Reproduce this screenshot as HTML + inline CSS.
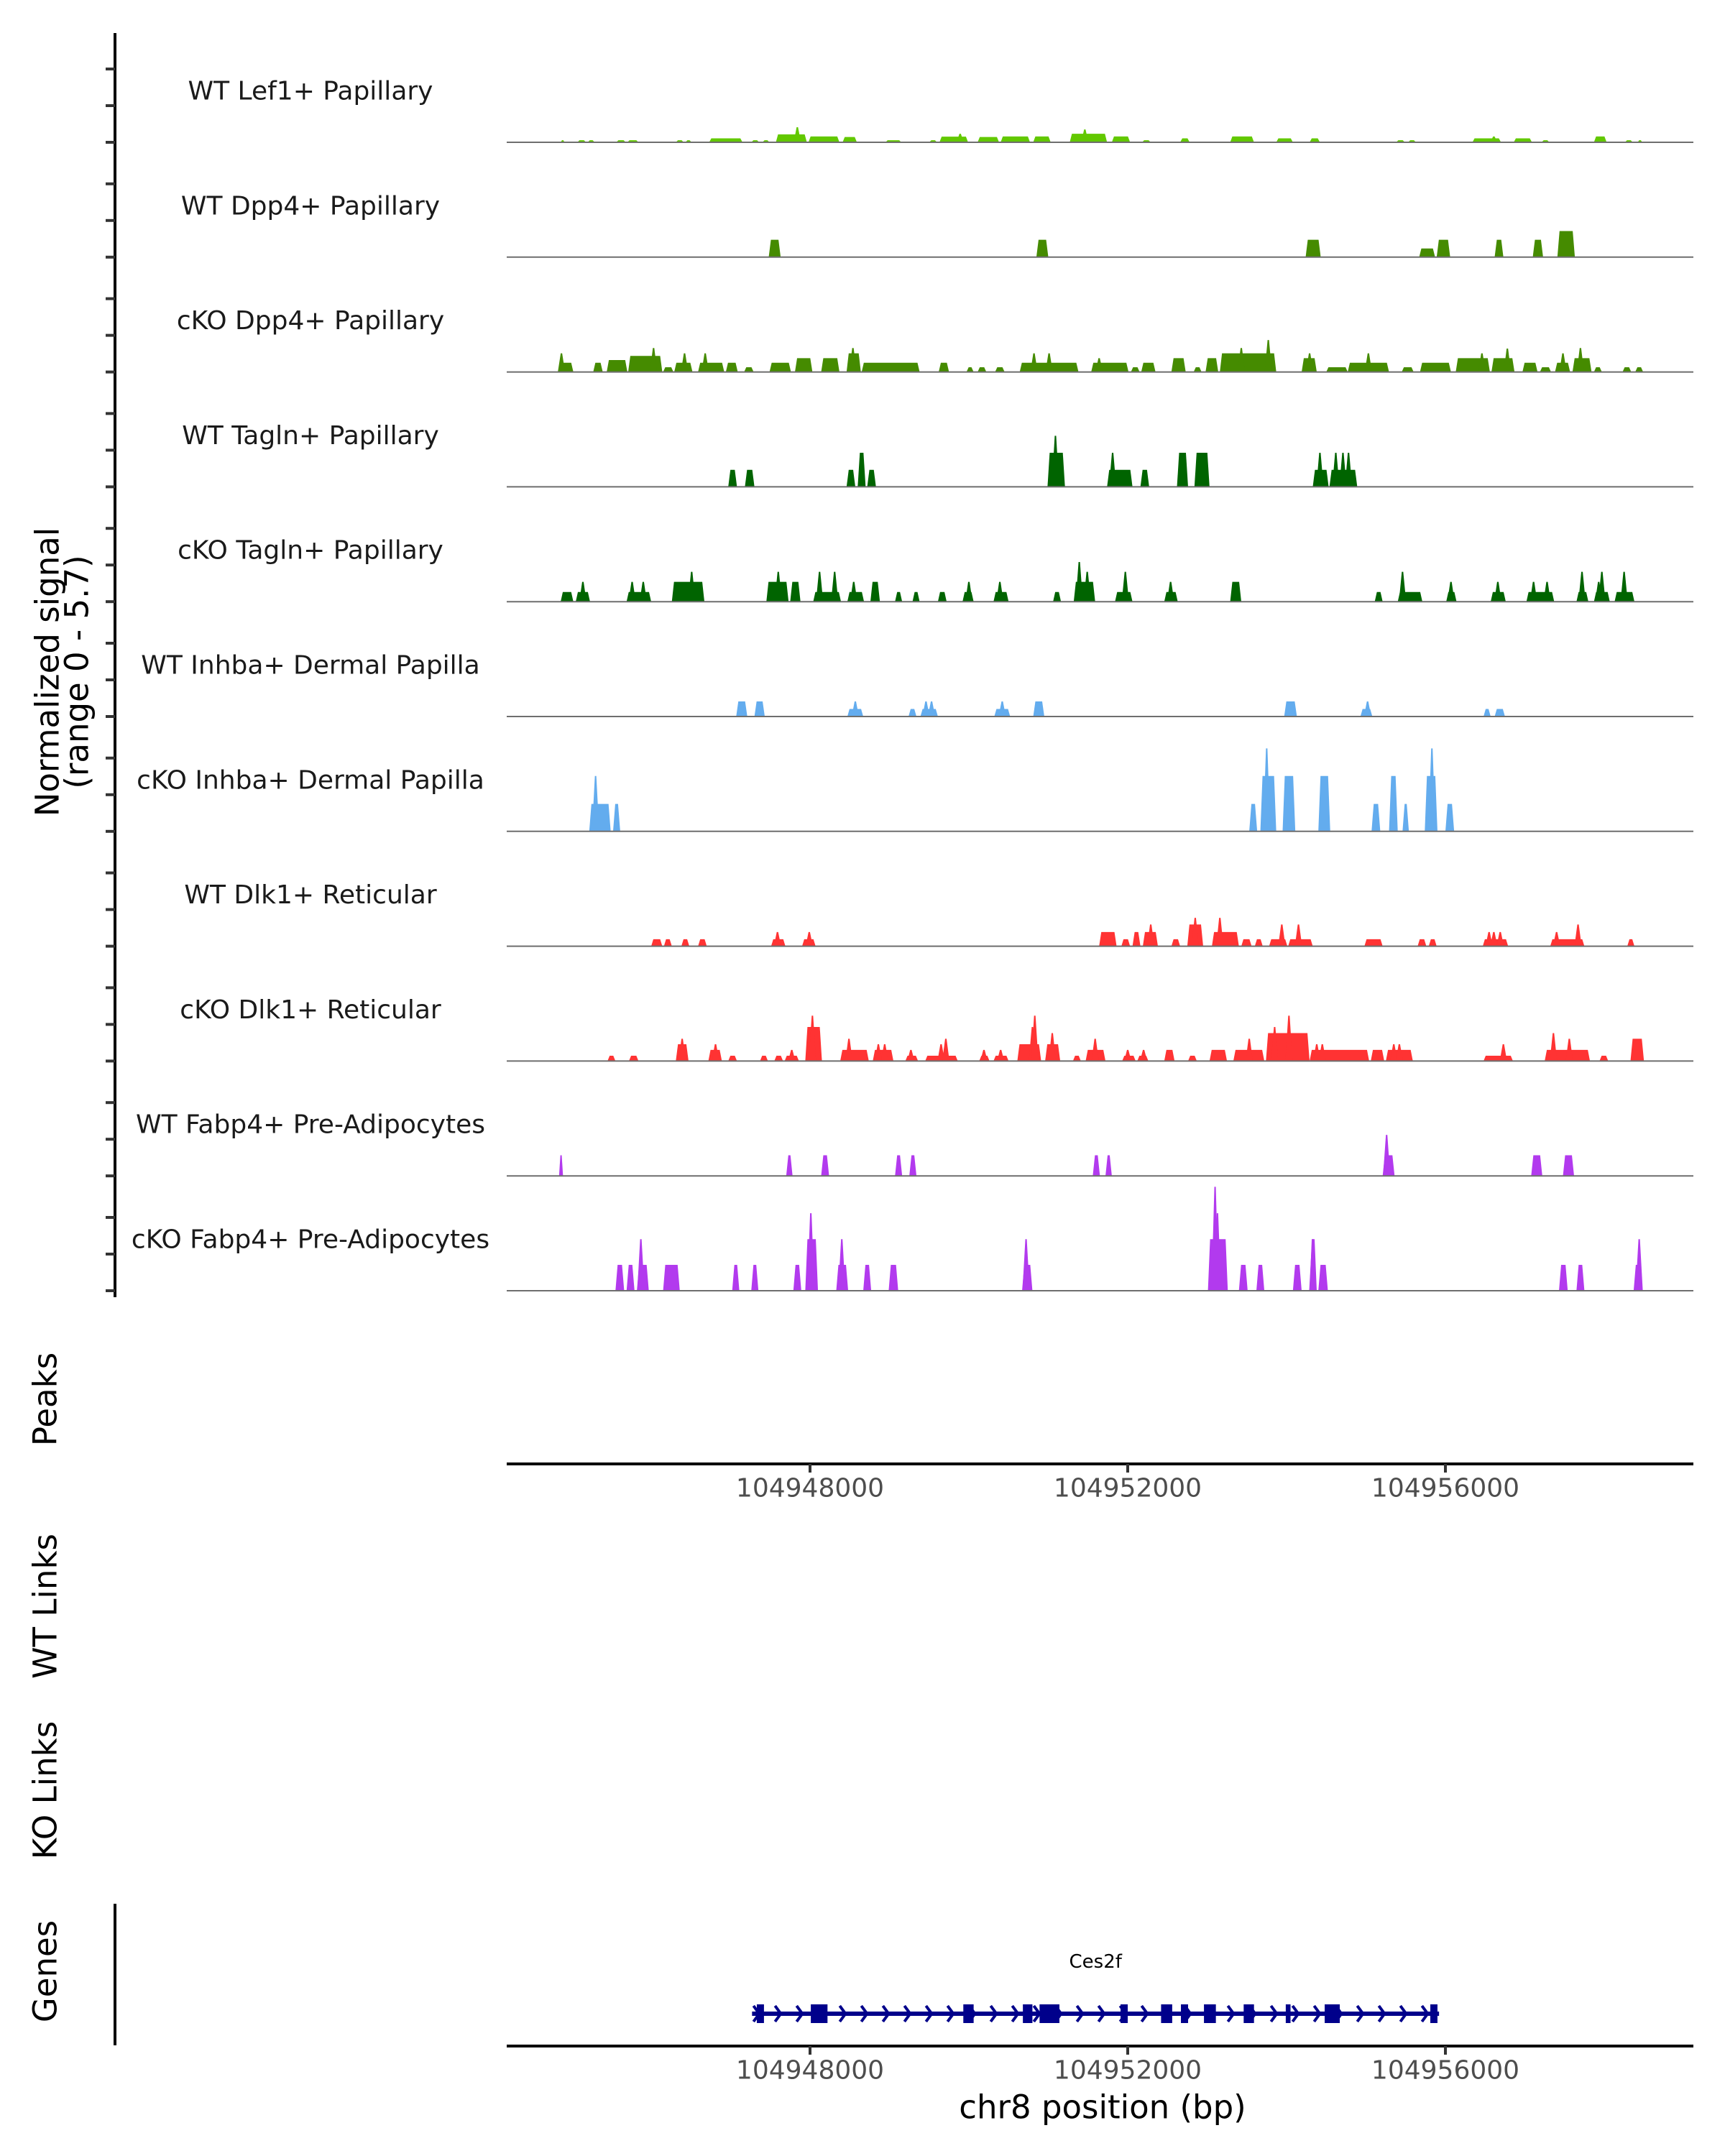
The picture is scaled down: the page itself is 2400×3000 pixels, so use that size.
<!DOCTYPE html>
<html><head><meta charset="utf-8"><style>
html,body{margin:0;padding:0;background:#fff;}
svg{display:block;font-family:"DejaVu Sans","Liberation Sans",sans-serif;}
</style></head><body>
<svg id="chart" xmlns="http://www.w3.org/2000/svg" width="2400" height="3000" viewBox="0 0 2400 3000"></svg>
<script>
// positions in kb offset from chr8:104944000
const tickValues = [4, 8, 12];
const tickLabels = ["104948000", "104952000", "104956000"];
const trackNames = ["WT Lef1+ Papillary","WT Dpp4+ Papillary","cKO Dpp4+ Papillary","WT Tagln+ Papillary","cKO Tagln+ Papillary","WT Inhba+ Dermal Papilla","cKO Inhba+ Dermal Papilla","WT Dlk1+ Reticular","cKO Dlk1+ Reticular","WT Fabp4+ Pre-Adipocytes","cKO Fabp4+ Pre-Adipocytes"];
const trackColors = ["#62c800","#458b00","#458b00","#006400","#006400","#63acee","#63acee","#ff3333","#ff3333","#b23aee","#b23aee"];

const wtLef1Ranges = [[0.86,0.91,.11],[1.07,1.18,.11],[1.20,1.29,.11],[1.56,1.68,.11],[1.70,1.84,.11],[2.31,2.41,.11],[2.43,2.51,.11],[2.73,3.15,.21],[3.26,3.36,.11],[3.40,3.49,.11],[3.57,3.96,.42],[3.98,4.37,.31],[4.41,4.59,.28],[4.95,5.15,.11],[5.50,5.60,.11],[5.63,5.99,.30],[6.11,6.38,.28],[6.40,6.77,.31],[6.81,7.03,.31],[7.27,7.74,.45],[7.80,8.03,.31],[8.18,8.29,.11],[8.66,8.78,.21],[9.29,9.59,.31],[9.87,10.08,.21],[10.29,10.42,.21],[11.38,11.49,.11],[11.53,11.63,.11],[12.34,12.70,.21],[12.86,13.09,.21],[13.21,13.31,.11],[13.87,14.03,.31],[14.26,14.36,.11],[14.42,14.48,.11]];
const wtLef1Spikes = [[3.84,0.8],[5.89,0.45],[7.46,0.68],[12.61,0.31]];

const wtDpp4Ranges = [[3.48,3.63,.92],[6.85,7.00,.92],[10.24,10.43,.92],[11.67,11.87,.46],[11.89,12.06,.92],[12.62,12.73,.92],[13.10,13.23,.92],[13.41,13.63,1.38]];
const wtDpp4Spikes = [];

const koDpp4Ranges = [[0.86,1.02,.49],[1.27,1.39,.49],[1.44,1.70,.63],[1.71,2.14,.85],[2.15,2.28,.25],[2.29,2.52,.49],[2.59,2.92,.49],[2.94,3.09,.49],[3.17,3.29,.25],[3.49,3.76,.49],[3.81,4.03,.73],[4.14,4.37,.73],[4.46,4.64,.99],[4.65,5.38,.49],[5.62,5.75,.49],[5.97,6.06,.25],[6.11,6.22,.25],[6.33,6.45,.25],[6.64,7.38,.49],[7.54,8.01,.49],[8.04,8.15,.25],[8.17,8.35,.49],[8.55,8.73,.73],[8.83,8.93,.25],[8.98,9.14,.73],[9.16,9.87,.99],[10.19,10.38,.73],[10.50,10.77,.25],[10.77,11.29,.49],[11.45,11.60,.25],[11.68,12.07,.49],[12.13,12.56,.73],[12.58,12.87,.73],[12.97,13.16,.49],[13.19,13.33,.25],[13.38,13.57,.49],[13.60,13.84,.73],[13.87,13.97,.25],[14.23,14.34,.25],[14.39,14.49,.25]];
const koDpp4Spikes = [[0.87,.99],[2.03,1.27],[2.42,.99],[2.68,.99],[4.54,1.27],[6.82,.99],[7.01,.99],[7.64,.73],[9.77,1.69],[9.43,1.27],[10.29,.99],[11.03,.99],[12.46,.99],[12.78,1.24],[13.48,.99],[13.70,1.27]];

const wtTaglnRanges = [[2.97,3.08,.9],[3.18,3.30,.9],[4.46,4.57,.9],[4.60,4.70,1.8],[4.72,4.83,.9],[6.99,7.21,1.8],[7.74,8.06,.9],[8.16,8.27,.9],[8.62,8.76,1.8],[8.84,9.03,1.8],[10.33,10.53,.9],[10.54,10.89,.9]];
const wtTaglnSpikes = [[7.09,2.7],[7.81,1.8],[10.42,1.8],[10.62,1.8],[10.71,1.8],[10.78,1.8]];

const koTaglnRanges = [[0.86,1.02,.51],[1.05,1.23,.51],[1.69,2.00,.51],[2.26,2.67,1.05],[3.45,3.73,1.05],[3.75,3.88,1.05],[4.04,4.39,.51],[4.47,4.68,.51],[4.76,4.88,1.05],[5.07,5.16,.51],[5.29,5.38,.51],[5.61,5.72,.51],[5.92,6.06,.51],[6.31,6.50,.51],[7.06,7.16,.51],[7.32,7.59,1.05],[7.84,8.06,.51],[8.46,8.63,.51],[9.29,9.43,1.05],[11.11,11.21,.51],[11.40,11.71,.51],[12.01,12.14,.51],[12.57,12.76,.51],[13.02,13.37,.51],[13.65,13.80,.51],[13.87,14.07,.51],[14.13,14.38,.51]];
const koTaglnSpikes = [[1.14,1.05],[1.76,1.05],[1.90,1.05],[2.51,1.58],[3.60,1.58],[4.12,1.58],[4.31,1.58],[4.55,1.05],[6.00,1.05],[6.39,1.05],[7.39,2.1],[7.49,1.58],[7.97,1.58],[8.54,1.05],[11.46,1.58],[12.07,1.05],[12.66,1.05],[13.11,1.05],[13.28,1.05],[13.72,1.58],[13.93,1.05],[13.97,1.58],[14.25,1.58]];

const wtInhbaRanges = [[3.07,3.21,.8],[3.30,3.43,.8],[4.47,4.67,.4],[5.24,5.34,.4],[5.39,5.61,.4],[6.32,6.52,.4],[6.81,6.95,.8],[9.97,10.13,.8],[10.93,11.08,.4],[12.48,12.57,.4],[12.62,12.75,.4]];
const wtInhbaSpikes = [[4.57,.8],[5.46,.8],[5.53,.8],[6.42,.8],[11.02,.8]];

const koInhbaRanges = [[1.22,1.49,1.45],[1.52,1.61,1.45],[9.53,9.63,1.45],[9.67,9.87,2.93],[9.95,10.11,2.93],[10.40,10.55,2.93],[11.07,11.18,1.45],[11.29,11.40,2.93],[11.46,11.54,1.45],[11.74,11.90,2.93],[12.00,12.11,1.45]];
const koInhbaSpikes = [[1.30,2.93],[9.75,4.39],[11.83,4.39]];

const wtDlk1Ranges = [[2.00,2.14,.37],[2.16,2.26,.37],[2.38,2.48,.37],[2.59,2.70,.37],[3.51,3.69,.37],[3.90,4.07,.37],[7.64,7.86,.75],[7.92,8.03,.37],[8.06,8.16,.75],[8.19,8.38,.75],[8.55,8.66,.37],[8.75,8.95,1.15],[9.06,9.40,.75],[9.43,9.56,.37],[9.60,9.70,.37],[9.78,10.01,.37],[10.02,10.33,.37],[10.98,11.21,.37],[11.65,11.76,.37],[11.79,11.89,.37],[12.47,12.79,.37],[13.32,13.75,.37],[14.29,14.38,.37]];
const wtDlk1Spikes = [[3.59,.75],[3.99,.75],[8.29,1.15],[8.85,1.5],[9.16,1.5],[9.94,1.15],[10.15,1.15],[12.55,.75],[12.61,.75],[12.69,.75],[13.40,.75],[13.67,1.15]];

const koDlk1Ranges = [[1.45,1.55,.28],[1.72,1.84,.28],[2.31,2.47,.89],[2.72,2.89,.59],[2.97,3.08,.28],[3.37,3.47,.28],[3.55,3.66,.28],[3.68,3.86,.28],[3.94,4.15,1.8],[4.38,4.74,.59],[4.79,5.05,.59],[5.20,5.36,.28],[5.45,5.86,.28],[6.13,6.26,.28],[6.31,6.50,.28],[6.61,6.91,.89],[6.96,7.15,.89],[7.31,7.41,.28],[7.47,7.72,.59],[7.93,8.10,.28],[8.12,8.26,.28],[8.46,8.59,.59],[8.76,8.87,.28],[9.03,9.25,.59],[9.33,9.72,.59],[9.74,10.29,1.48],[10.29,11.04,.59],[11.06,11.23,.59],[11.25,11.59,.59],[12.48,12.85,.28],[13.25,13.82,.59],[13.94,14.05,.28],[14.33,14.50,1.18]];
const koDlk1Spikes = [[2.39,1.18],[2.81,.89],[3.77,.59],[4.03,2.4],[4.49,1.18],[4.86,.89],[4.94,.89],[5.27,.59],[5.65,.89],[5.71,1.18],[6.19,.59],[6.40,.59],[6.80,1.8],[6.83,2.4],[7.05,1.48],[7.59,1.18],[8.00,.59],[8.20,.59],[9.53,1.18],[9.85,1.8],[10.03,2.4],[10.38,.89],[10.45,.89],[11.35,.89],[11.42,.89],[12.73,.89],[13.36,1.48],[13.56,1.18]];

const wtFabp4Ranges = [[0.84,0.89,1.09],[3.70,3.78,1.09],[4.14,4.24,1.09],[5.07,5.16,1.09],[5.25,5.34,1.09],[7.56,7.65,1.09],[7.72,7.80,1.09],[11.21,11.36,1.09],[13.08,13.22,1.09],[13.48,13.62,1.09]];
const wtFabp4Spikes = [[11.26,2.17]];

const koFabp4Ranges = [[1.55,1.66,1.37],[1.69,1.79,1.37],[1.82,1.97,1.37],[2.15,2.36,1.37],[3.02,3.11,1.37],[3.26,3.35,1.37],[3.79,3.89,1.37],[3.94,4.10,2.73],[4.33,4.48,1.37],[4.67,4.77,1.37],[4.99,5.11,1.37],[6.67,6.80,1.37],[9.01,9.26,2.73],[9.40,9.51,1.37],[9.62,9.72,1.37],[10.08,10.19,1.37],[10.29,10.38,2.73],[10.40,10.52,1.37],[13.43,13.54,1.37],[13.65,13.75,1.37],[14.37,14.46,1.37]];
const koFabp4Spikes = [[1.87,2.73],[4.01,4.1],[4.40,2.73],[6.72,2.73],[9.13,4.1],[9.10,5.5],[10.33,2.73],[14.44,2.73]];

const trackRanges = [wtLef1Ranges,wtDpp4Ranges,koDpp4Ranges,wtTaglnRanges,koTaglnRanges,wtInhbaRanges,koInhbaRanges,wtDlk1Ranges,koDlk1Ranges,wtFabp4Ranges,koFabp4Ranges];
const trackSpikes = [wtLef1Spikes,wtDpp4Spikes,koDpp4Spikes,wtTaglnSpikes,koTaglnSpikes,wtInhbaSpikes,koInhbaSpikes,wtDlk1Spikes,koDlk1Spikes,wtFabp4Spikes,koFabp4Spikes];

const geneName = "Ces2f";
const geneSpan = [3.27, 11.92];
const geneExons = [[3.33,3.42],[4.01,4.22],[5.93,6.06],[6.68,6.80],[6.89,7.14],[7.91,8.00],[8.42,8.56],[8.67,8.76],[8.96,9.11],[9.46,9.59],[9.99,10.05],[10.48,10.67],[11.81,11.90]];

const NS = "http://www.w3.org/2000/svg";
const svg = document.getElementById("chart");
const X0 = 705, X1 = 2356;
function xScale(kb){ return 1127 + (kb - 4) * 110.5; }
function baseY(i){ return 198 + i * 159.8; }
function yScale(i, v){ return baseY(i) - v * 26.3; }
function mk(tag, attrs, parent){
  const e = document.createElementNS(NS, tag);
  for (const k in attrs) e.setAttribute(k, attrs[k]);
  (parent || svg).appendChild(e);
  return e;
}
function txt(str, attrs, parent){ const t = mk("text", attrs, parent); t.textContent = str; return t; }

let ax = mk("line",{x1:160,y1:46,x2:160,y2:1805,stroke:"#000","stroke-width":4});


for (let i=0;i<11;i++){
  for (let k=0;k<3;k++){
    const tk = mk("line",{x1:147,x2:160,y1:baseY(i)-k*51,y2:baseY(i)-k*51,stroke:"#333","stroke-width":4});
    
    
  }
}
let yt = mk("g",{transform:"translate(66,935) rotate(-90)"});


txt("Normalized signal",{x:0,y:0,"text-anchor":"middle","dominant-baseline":"central","font-size":45,fill:"#000"},yt);
txt("(range 0 - 5.7)",{x:0,y:41,"text-anchor":"middle","dominant-baseline":"central","font-size":45,fill:"#000"},yt);

for (let i=0;i<11;i++){
  const g = mk("g",{});
  
  
  const lab = txt(trackNames[i],{x:432,y:baseY(i)-71,"text-anchor":"middle","dominant-baseline":"central","font-size":36,fill:"#1a1a1a"},g);
  
  
  const b = baseY(i);
  trackRanges[i].forEach(r=>{
    const xs = xScale(r[0]), xe = xScale(r[1]);
    const ramp = Math.min(3, (xe-xs)/3);
    const p = mk("polygon",{points:`${xs},${b} ${xs+ramp},${yScale(i,r[2])} ${xe-ramp},${yScale(i,r[2])} ${xe},${b}`,fill:trackColors[i]},g);
    
    
  });
  trackSpikes[i].forEach(s=>{
    const xc = xScale(s[0]);
    const p = mk("polygon",{points:`${xc-5},${b} ${xc-1},${yScale(i,s[1])} ${xc+1},${yScale(i,s[1])} ${xc+5},${b}`,fill:trackColors[i]},g);
    
    
  });
  const bl = mk("line",{x1:X0,x2:X1,y1:b,y2:b,stroke:"#6e6e6e","stroke-width":2},g);
  
  
}

function xAxis(y, name){
  const g = mk("g",{});
  
  
  mk("line",{x1:X0,x2:X1,y1:y,y2:y,stroke:"#000","stroke-width":4},g);
  tickValues.forEach((v,j)=>{
    mk("line",{x1:xScale(v),x2:xScale(v),y1:y,y2:y+12,stroke:"#333","stroke-width":4},g);
    const t = txt(tickLabels[j],{x:xScale(v),y:y+34,"text-anchor":"middle","dominant-baseline":"central","font-size":36,fill:"#4d4d4d"},g);
    
    
  });
}
xAxis(2037,'peaks-x-axis');
xAxis(2847,'genes-x-axis');

[["Peaks",1947,'peaks-title'],["WT Links",2235,'wt-links-title'],["KO Links",2491,'ko-links-title'],["Genes",2743,'genes-title']].forEach(a=>{
  const t = txt(a[0],{x:0,y:0,transform:`translate(63,${a[1]}) rotate(-90)`,"text-anchor":"middle","dominant-baseline":"central","font-size":45,fill:"#000"});
  
  
});
let gl = mk("line",{x1:160,x2:160,y1:2649,y2:2846,stroke:"#000","stroke-width":4});



const gg = mk("g",{});


const gy = 2802;
mk("line",{x1:xScale(geneSpan[0]),x2:xScale(geneSpan[1]),y1:gy,y2:gy,stroke:"#00008b","stroke-width":6},gg);
for (let x = xScale(geneSpan[0])+6; x < xScale(geneSpan[1])-4; x += 30){
  mk("polyline",{points:`${x-4},${gy-11} ${x+4},${gy} ${x-4},${gy+11}`,fill:"none",stroke:"#00008b","stroke-width":4},gg);
}
geneExons.forEach(e=>{
  const r = mk("rect",{x:xScale(e[0]),y:gy-13,width:xScale(e[1])-xScale(e[0]),height:26,fill:"#00008b"},gg);
  
  
});
const gn = txt(geneName,{x:(xScale(geneSpan[0])+xScale(geneSpan[1]))/2,y:2730,"text-anchor":"middle","dominant-baseline":"central","font-size":26,fill:"#000"});



const xt = txt("chr8 position (bp)",{x:1534,y:2932,"text-anchor":"middle","dominant-baseline":"central","font-size":45,fill:"#000"});


</script>
</body></html>
